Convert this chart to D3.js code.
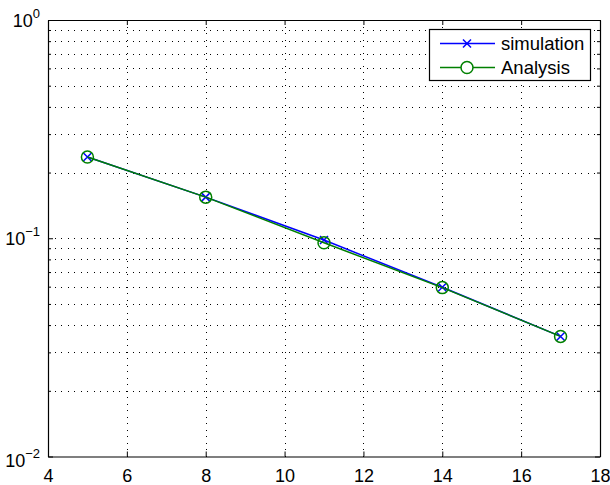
<!DOCTYPE html>
<html>
<head>
<meta charset="utf-8">
<script src="https://cdn.jsdelivr.net/npm/d3@7"></script>
<style>
  body { margin: 0; background: #fff; }
  svg text { font-family: "Liberation Sans", Arial, sans-serif; fill: #000; }
</style>
</head>
<body>
<svg id="plot" width="610" height="485"></svg>
<script>
// data
const snr = [5, 8, 11, 14, 17]
const simulation = [0.2356, 0.1543, 0.0981, 0.0596, 0.0355]
const analysis = [0.2356, 0.1543, 0.0953, 0.0594, 0.0355]
const xTicks = [4, 6, 8, 10, 12, 14, 16, 18]
const yDecades = [-2, -1, 0]
const seriesNames = ["simulation", "Analysis"]

const width = 610
const height = 485
const margin = ({ top: 20, right: 10, bottom: 28.5, left: 48 })

const x = d3.scaleLinear()
    .domain([4, 18])
    .range([margin.left, width - margin.right])

const y = d3.scaleLog()
    .domain([0.01, 1])
    .range([height - margin.bottom, margin.top])

// minor levels 2..9 within each decade
const minor = []
for (let e = -2; e < 0; e++)
    for (let m = 2; m <= 9; m++) minor.push(m * Math.pow(10, e))
const majors = yDecades.map(e => Math.pow(10, e))

const svg = d3.select("#plot")

// grid
const grid = svg.append("g")
    .attr("stroke", "#000")
    .attr("stroke-width", 1)
    .attr("stroke-dasharray", "1,5.5")
    .attr("shape-rendering", "crispEdges")

grid.selectAll("line.gx")
    .data(xTicks.slice(1, -1))
    .join("line")
    .attr("x1", d => Math.round(x(d)) + 0.5)
    .attr("x2", d => Math.round(x(d)) + 0.5)
    .attr("y1", y(1))
    .attr("y2", y(0.01))

grid.selectAll("line.gy")
    .data(minor.concat([0.1]))
    .join("line")
    .attr("x1", x(4))
    .attr("x2", x(18))
    .attr("y1", d => Math.round(y(d)) + 0.5)
    .attr("y2", d => Math.round(y(d)) + 0.5)

// axes box with inward ticks
const xAxisB = d3.axisBottom(x).tickValues(xTicks).tickSize(-5).tickSizeOuter(0).tickPadding(13)
const xAxisT = d3.axisTop(x).tickValues(xTicks).tickSize(-5).tickSizeOuter(0).tickFormat("")

svg.append("g")
    .attr("transform", `translate(0,${height - margin.bottom})`)
    .call(xAxisB)
    .call(g => g.selectAll("text").attr("font-size", 18).attr("dy", "0.71em"))

svg.append("g")
    .attr("transform", `translate(0,${margin.top})`)
    .call(xAxisT)

const yAxisL = d3.axisLeft(y).tickValues(majors).tickSize(-5).tickSizeOuter(0).tickFormat("")
const yAxisR = d3.axisRight(y).tickValues(majors).tickSize(-5).tickSizeOuter(0).tickFormat("")
const yMinorL = d3.axisLeft(y).tickValues(minor).tickSize(-3).tickSizeOuter(0).tickFormat("")
const yMinorR = d3.axisRight(y).tickValues(minor).tickSize(-3).tickSizeOuter(0).tickFormat("")

svg.append("g").attr("transform", `translate(${margin.left},0)`).call(yAxisL)
svg.append("g").attr("transform", `translate(${width - margin.right},0)`).call(yAxisR)
svg.append("g").attr("transform", `translate(${margin.left},0)`).call(yMinorL)
    .call(g => g.select(".domain").remove())
svg.append("g").attr("transform", `translate(${width - margin.right},0)`).call(yMinorR)
    .call(g => g.select(".domain").remove())

svg.selectAll(".domain").attr("stroke", "#000").attr("stroke-width", 1.2)
svg.selectAll(".tick line").attr("stroke", "#000")

// y labels as 10^e
const yLab = svg.append("g")
yDecades.forEach(e => {
    const t = yLab.append("text")
        .attr("x", margin.left - 8)
        .attr("y", y(Math.pow(10, e)) + 7 + (e === -2 ? 3 : 0))
        .attr("text-anchor", "end")
        .attr("font-size", 18)
    t.append("tspan").text("10")
    t.append("tspan")
        .attr("font-size", 13)
        .attr("dy", -9)
        .text(e === 0 ? "0" : "\u2212" + Math.abs(e))
})

// series
const line = d3.line()
    .x(d => x(d[0]))
    .y(d => y(d[1]))

const simPts = snr.map((v, i) => [v, simulation[i]])
const anaPts = snr.map((v, i) => [v, analysis[i]])

svg.append("path")
    .datum(simPts)
    .attr("fill", "none")
    .attr("stroke", "#0000ff")
    .attr("stroke-width", 1.5)
    .attr("d", line)

const cross = (g, cx, cy, s, color) => {
    g.append("path")
        .attr("d", `M${cx - s},${cy - s}L${cx + s},${cy + s}M${cx - s},${cy + s}L${cx + s},${cy - s}`)
        .attr("stroke", color)
        .attr("stroke-width", 1.5)
        .attr("fill", "none")
}

const simMarks = svg.append("g")
simPts.forEach(d => cross(simMarks, x(d[0]), y(d[1]), 4, "#0000ff"))

svg.append("path")
    .datum(anaPts)
    .attr("fill", "none")
    .attr("stroke", "#008000")
    .attr("stroke-width", 1.5)
    .attr("d", line)

svg.append("g")
    .selectAll("circle")
    .data(anaPts)
    .join("circle")
    .attr("cx", d => x(d[0]))
    .attr("cy", d => y(d[1]))
    .attr("r", 6)
    .attr("fill", "none")
    .attr("stroke", "#008000")
    .attr("stroke-width", 1.5)

// legend
const legend = svg.append("g")
legend.append("rect")
    .attr("x", 429.5).attr("y", 29.5)
    .attr("width", 161).attr("height", 51)
    .attr("fill", "#fff")
    .attr("stroke", "#000")
    .attr("stroke-width", 1.2)

const colors = ["#0000ff", "#008000"]
seriesNames.forEach((name, i) => {
    const ly = 43.5 + i * 24
    legend.append("line")
        .attr("x1", 440).attr("x2", 495)
        .attr("y1", ly).attr("y2", ly)
        .attr("stroke", colors[i])
        .attr("stroke-width", 1.5)
    if (i === 0) cross(legend, 467, ly, 4, colors[i])
    else legend.append("circle")
        .attr("cx", 467).attr("cy", ly).attr("r", 6)
        .attr("fill", "#fff")
        .attr("stroke", colors[i])
        .attr("stroke-width", 1.5)
    legend.append("text")
        .attr("x", 501)
        .attr("y", ly + 6.5)
        .attr("font-size", 18.5)
        .text(name)
})
</script>
</body>
</html>
